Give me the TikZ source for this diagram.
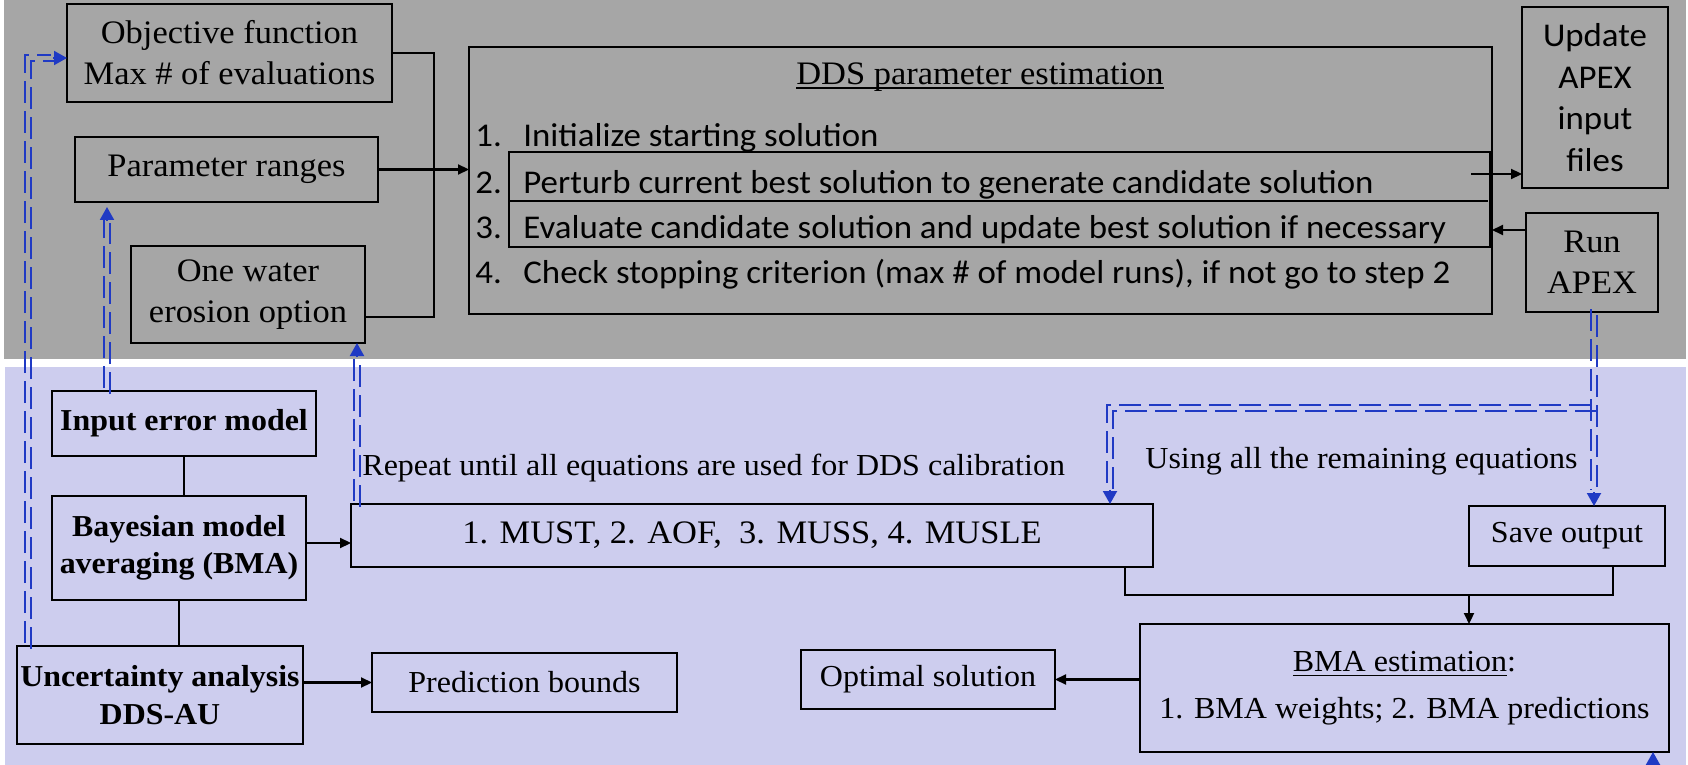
\documentclass[tikz,border=0pt]{standalone}
\usepackage{fontspec}
\setmainfont{Liberation Serif}[FakeStretch=1.05]
\newfontfamily\calib{Carlito}[FakeStretch=1.05]
\usetikzlibrary{arrows.meta,calc}
\definecolor{bggray}{RGB}{166,166,166}
\definecolor{bglav}{RGB}{205,205,238}
\definecolor{myblue}{RGB}{32,58,196}
\newcommand\ulx[2][-1.9pt]{\setbox0\hbox{#2}\rlap{\rule[#1]{\wd0}{0.7pt}}\box0}
% [style]{x1}{y1}{x2}{y2}{name}{text}  (pixel coordinates, y downwards)
\newcommand\bx[7][]{\node[box,#1, minimum width={(#4-#2)*0.5pt}, minimum height={(#5-#3)*0.5pt}] (#6) at ({(#2+#4)/2},{(#3+#5)/2}) {#7};}
\begin{document}
\begin{tikzpicture}[x=0.5pt,y=-0.5pt,
  box/.style={draw=black, line width=1.1pt, inner sep=0pt, outer sep=0pt, align=center},
  tbig/.style={font=\fontsize{16.4}{20.5}\selectfont},
  tsm/.style={font=\fontsize{15.25}{19}\selectfont},
  tbf/.style={font=\fontsize{15.2}{18.75}\selectfont\bfseries},
  cal/.style={font=\calib\fontsize{16.6}{20.75}\selectfont},
  txt/.style={inner sep=0pt, anchor=base west},
  ln/.style={line width=1.1pt},
  arr/.style={line width=1.1pt, -{Triangle[length=5.5pt,width=5pt]}},
  dbl/.style={postaction={draw=myblue, line width=1pt, dash pattern=on 11pt off 4pt, transform canvas={shift={(-1.5pt,1.5pt)}}},
              postaction={draw=myblue, line width=1pt, dash pattern=on 11pt off 4pt, transform canvas={shift={(1.5pt,-1.5pt)}}}},
  btip/.style={myblue, line width=1pt, -{Triangle[length=6.5pt,width=7pt]}},
]
\useasboundingbox (0,0) rectangle (1688,765);
\fill[bggray] (4,0) rectangle (1686,359);
\fill[bglav] (5,367) rectangle (1686,765);

% ---------- top region ----------
\bx[tbig]{67}{4}{392}{102}{obj}{Objective function\\Max \# of evaluations}
\bx[tbig]{75}{137}{378}{202}{param}{Parameter ranges}
\bx[tbig]{131}{246}{365}{343}{water}{One water\\erosion option}
\bx{469}{47}{1492}{314}{dds}{}
\bx{509}{152}{1490}{247}{steps}{}
\bx[cal]{1522}{7}{1668}{188}{upd}{Update\\APEX\\input\\files}
\bx[tbig]{1526}{213}{1658}{312}{run}{Run\\APEX}

\node[tbig, inner sep=0pt, anchor=base] (ddst) at (980,85) {\ulx{DDS parameter estimation}};
\node[cal, txt] (n1) at (475,147) {1.};
\node[cal, txt] (t1) at (523,147) {Initialize starting solution};
\node[cal, txt] (n2) at (475,193) {2.};
\node[cal, txt] (t2) at (523,193) {Perturb current best solution to generate candidate solution};
\node[cal, txt] (n3) at (475,238) {3.};
\node[cal, txt] (t3) at (523,238) {Evaluate candidate solution and update best solution if necessary};
\node[cal, txt] (n4) at (475,283) {4.};
\node[cal, txt] (t4) at (523,283) {Check stopping criterion (max \# of model runs), if not go to step 2};

\coordinate (dv) at (0,201);
\draw[ln] (steps.west |- dv) -- ($(steps.east |- dv)+(-2,0)$);

\coordinate (jw) at (434,317);
\draw[ln] (obj.east) -| (jw) -- (water.east |- jw);
\draw[arr] (param.east) -- (dds.west |- param.east);
\coordinate (s2) at (1471,174);
\draw[arr] (s2) -- (upd.west |- s2);
\coordinate (r3) at (0,230);
\draw[arr] (run.west |- r3) -- (dds.east |- r3);

% ---------- bottom region ----------
\bx[tbf]{52}{391}{316}{456}{inp}{Input error model}
\bx[tbf]{52}{496}{306}{600}{bayes}{Bayesian model\\averaging (BMA)}
\bx[tbf]{17}{646}{303}{744}{unc}{Uncertainty analysis\\DDS-AU}
\bx[tsm]{372}{653}{677}{712}{pred}{Prediction bounds}
\bx[tbig]{351}{504}{1153}{567}{must}{1. MUST, 2. AOF,\ \ 3. MUSS, 4. MUSLE}
\bx[tsm]{1469}{506}{1665}{566}{save}{Save output}
\bx[tsm]{801}{650}{1055}{709}{opt}{Optimal solution}
\bx[font=\fontsize{15.25}{23.5}\selectfont]{1140}{624}{1669}{752}{bma}{\ulx[-2.4pt]{BMA estimation}:\\1. BMA weights; 2. BMA predictions}

\node[tsm, txt] (rep) at (362,475) {Repeat until all equations are used for DDS calibration};
\node[tsm, txt] (use) at (1145,468) {Using all the remaining equations};

\draw[ln] (inp.south) -- (bayes.north -| inp.south);
\draw[ln] (bayes.south) -- (unc.north -| bayes.south);
\coordinate (yB) at (0,543);
\draw[arr] (bayes.east |- yB) -- (must.west |- yB);
\draw[arr] (unc.east |- pred.west) -- (pred.west);
\draw[arr] (bma.west |- opt.east) -- (opt.east);
\coordinate (jl) at (1125,595);
\coordinate (jr) at (1613,595);
\coordinate (jm) at (1469,595);
\draw[ln] (must.south -| jl) -- (jl) -- (jr) -- (save.south -| jr);
\draw[arr] (jm) -- (bma.north -| jm);

% ---------- blue double dashed connectors ----------
\coordinate (xA) at (28,0);
\coordinate (yA) at (0,58);
\path[dbl] (unc.north -| xA) |- ($(obj.west |- yA)+(-13,0)$);
\draw[btip] ($(obj.west |- yA)+(-14,0)$) -- (obj.west |- yA);

\coordinate (xB) at (107,0);
\path[dbl] (inp.north -| xB) -- ($(param.south -| xB)+(0,18)$);
\draw[btip] ($(param.south -| xB)+(0,19)$) -- ($(param.south -| xB)+(0,5)$);

\coordinate (xC) at (357,0);
\path[dbl] (must.north -| xC) -- ($(water.south -| xC)+(0,13)$);
\draw[btip] ($(water.south -| xC)+(0,14)$) -- (water.south -| xC);

\coordinate (xD) at (1594,0);
\path[dbl] (run.south -| xD) -- ($(save.north -| xD)+(0,-13)$);
\draw[btip] ($(save.north -| xD)+(0,-14)$) -- (save.north -| xD);

\coordinate (yE) at (0,408);
\coordinate (xE) at (1110,0);
\path[dbl] (xD |- yE) -| ($(must.north -| xE)+(0,-13)$);
\draw[btip] ($(must.north -| xE)+(0,-14)$) -- (must.north -| xE);

\coordinate (xF) at (1653,0);
\draw[btip] (1653,767) -- (bma.south -| xF);
\end{tikzpicture}
\end{document}
